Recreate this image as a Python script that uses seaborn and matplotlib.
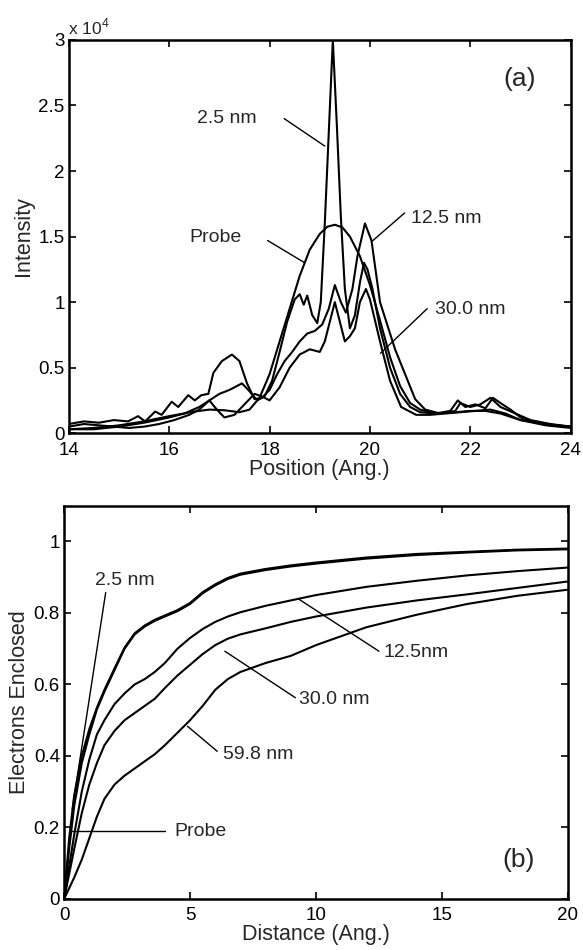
import numpy as np
import matplotlib
matplotlib.use("Agg")
import matplotlib.pyplot as plt
import seaborn as sns

# ===== DATA : panel (a) intensity profiles (units of 1e4) =====
probe_x = [14, 14.5, 15, 15.5, 16, 16.5, 16.8, 17.1, 17.4, 17.6, 17.8, 18.0, 18.2, 18.4, 18.6, 18.8,
           19.0, 19.15, 19.3, 19.45, 19.6, 19.8, 20.0, 20.2, 20.4, 20.6, 20.8, 21.0, 21.3, 21.7,
           22.0, 22.3, 22.6, 23.0, 23.5, 24]
probe_y = [0.03, 0.04, 0.06, 0.09, 0.13, 0.165, 0.18, 0.175, 0.16, 0.18, 0.27, 0.45, 0.7, 0.95, 1.2, 1.40,
           1.52, 1.575, 1.59, 1.57, 1.5, 1.35, 1.13, 0.86, 0.58, 0.36, 0.23, 0.18, 0.15, 0.16,
           0.17, 0.17, 0.15, 0.1, 0.06, 0.04]

nm25_x = [14, 14.3, 14.6, 14.9, 15.2, 15.5, 15.8, 16.1, 16.4, 16.6, 16.8, 17.0, 17.2, 17.45, 17.6, 17.75,
          17.9, 18.05, 18.2, 18.35, 18.5, 18.6, 18.68, 18.75, 18.85, 18.95, 19.02, 19.1, 19.18, 19.26,
          19.34, 19.42, 19.5, 19.6, 19.7, 19.8, 19.88, 19.95, 20.05, 20.2, 20.4, 20.6, 20.8, 21.0,
          21.3, 21.6, 21.75, 21.9, 22.1, 22.3, 22.45, 22.6, 22.8, 23.0, 23.3, 23.6, 24]
nm25_y = [0.05, 0.07, 0.06, 0.05, 0.04, 0.05, 0.07, 0.1, 0.14, 0.18, 0.25, 0.3, 0.33, 0.38, 0.32, 0.25,
          0.28, 0.4, 0.62, 0.85, 1.02, 1.06, 0.98, 1.05, 0.9, 0.84, 1.0, 1.6, 2.3, 3.0,
          2.35, 1.65, 1.1, 0.8, 0.9, 1.15, 1.3, 1.25, 1.1, 0.8, 0.5, 0.3, 0.2, 0.16,
          0.15, 0.17, 0.25, 0.2, 0.22, 0.19, 0.27, 0.23, 0.18, 0.12, 0.08, 0.06, 0.05]

nm125_x = [14, 14.3, 14.6, 14.9, 15.18, 15.38, 15.52, 15.72, 15.85, 16.05, 16.18, 16.38, 16.51, 16.64,
           16.78, 16.88, 17.05, 17.25, 17.4, 17.55, 17.7, 17.85, 18.0, 18.15, 18.3, 18.45, 18.6, 18.75,
           18.9, 19.05, 19.18, 19.3, 19.42, 19.52, 19.65, 19.75, 19.9, 20.03, 20.2, 20.5, 20.9, 21.1,
           21.4, 21.7, 21.8, 22.0, 22.2, 22.4, 22.6, 22.9, 23.2, 23.6, 24]
nm125_y = [0.07, 0.09, 0.08, 0.1, 0.09, 0.13, 0.09, 0.165, 0.14, 0.24, 0.2, 0.29, 0.25, 0.29,
           0.3, 0.46, 0.55, 0.6, 0.55, 0.38, 0.26, 0.27, 0.33, 0.45, 0.55, 0.62, 0.7, 0.76,
           0.78, 0.83, 0.95, 1.13, 1.0, 0.92, 1.1, 1.35, 1.6, 1.47, 1.0, 0.64, 0.26, 0.18,
           0.15, 0.17, 0.23, 0.2, 0.22, 0.27, 0.2, 0.15, 0.1, 0.07, 0.05]

nm30_x = [14, 14.5, 15, 15.5, 16, 16.3, 16.6, 16.8, 16.95, 17.1, 17.3, 17.5, 17.7, 17.85, 18.0, 18.2,
          18.4, 18.6, 18.8, 19.0, 19.1, 19.2, 19.3, 19.4, 19.5, 19.6, 19.7, 19.8, 19.92, 20.0,
          20.2, 20.4, 20.62, 20.92, 21.2, 21.5, 21.8, 22.1, 22.4, 22.7, 23.0, 23.5, 24]
nm30_y = [0.03, 0.03, 0.05, 0.08, 0.12, 0.15, 0.2, 0.25, 0.18, 0.12, 0.14, 0.22, 0.3, 0.28, 0.25, 0.35,
          0.5, 0.6, 0.64, 0.62, 0.7, 0.85, 1.0, 0.85, 0.7, 0.74, 0.8, 1.0, 1.1, 1.02,
          0.7, 0.4, 0.2, 0.14, 0.14, 0.15, 0.16, 0.17, 0.18, 0.15, 0.1, 0.07, 0.05]

# ===== DATA : panel (b) electrons enclosed =====
dist_x = [0, 0.2, 0.4, 0.7, 1.0, 1.3, 1.6, 2.0, 2.4, 2.8, 3.2, 3.6, 4.0, 4.5, 5.0, 5.5, 6.0, 6.5, 7.0,
          8, 9, 10, 12, 14, 16, 18, 20]
enc_25 = [0, 0.14, 0.26, 0.38, 0.46, 0.53, 0.58, 0.64, 0.70, 0.74, 0.762, 0.778, 0.79, 0.805, 0.825,
          0.855, 0.877, 0.895, 0.907, 0.92, 0.93, 0.938, 0.952, 0.962, 0.969, 0.975, 0.978]
enc_probe = [0, 0.17, 0.29, 0.40, 0.475, 0.535, 0.585, 0.645, 0.703, 0.743, 0.765, 0.781, 0.793, 0.808,
             0.828, 0.858, 0.88, 0.898, 0.91, 0.923, 0.933, 0.941, 0.955, 0.965, 0.971, 0.977, 0.98]
enc_125 = [0, 0.09, 0.18, 0.3, 0.39, 0.46, 0.5, 0.545, 0.575, 0.6, 0.615, 0.635, 0.66, 0.7, 0.73,
           0.755, 0.775, 0.79, 0.802, 0.82, 0.835, 0.85, 0.873, 0.89, 0.905, 0.917, 0.927]
enc_30 = [0, 0.07, 0.14, 0.24, 0.32, 0.38, 0.43, 0.47, 0.5, 0.52, 0.54, 0.56, 0.59, 0.625, 0.655,
          0.685, 0.71, 0.728, 0.74, 0.757, 0.775, 0.79, 0.815, 0.835, 0.852, 0.87, 0.888]
enc_598 = [0, 0.03, 0.06, 0.11, 0.17, 0.23, 0.28, 0.32, 0.345, 0.365, 0.385, 0.405, 0.43, 0.465,
           0.5, 0.54, 0.585, 0.615, 0.635, 0.66, 0.68, 0.71, 0.76, 0.795, 0.825, 0.848, 0.865]

# ===== STYLE =====
sns.set_style("ticks")
plt.rcParams['font.family'] = ['Liberation Sans', 'DejaVu Sans']
plt.rcParams['mathtext.fontset'] = 'custom'
plt.rcParams['mathtext.rm'] = 'Liberation Sans'
fs_tick = 13.5
fs_lab = 15.5
fs_ann = 14

fig = plt.figure(figsize=(5.83, 9.5), dpi=100)
ax1 = fig.add_axes([0.118, 0.544, 0.861, 0.414])
ax2 = fig.add_axes([0.110, 0.0537, 0.864, 0.414])

lw = 1.5
for xs, ys in [(probe_x, probe_y), (nm25_x, nm25_y), (nm125_x, nm125_y), (nm30_x, nm30_y)]:
    sns.lineplot(x=xs, y=ys, ax=ax1, color='black', lw=lw, sort=False)

for ys in [enc_probe, enc_25, enc_125, enc_30, enc_598]:
    sns.lineplot(x=dist_x, y=ys, ax=ax2, color='black', lw=lw, sort=False)

# ===== AXES (a) =====
ax1.set_xlim(14, 24)
ax1.set_ylim(0, 3)
ax1.set_xticks([14, 16, 18, 20, 22, 24])
ax1.set_yticks([0, 0.5, 1, 1.5, 2, 2.5, 3])
ax1.set_yticklabels(['0', '0.5', '1', '1.5', '2', '2.5', '3'])
ax1.set_xlabel('Position (Ang.)', fontsize=fs_lab, labelpad=0)
ax1.set_ylabel('Intensity', fontsize=fs_lab, labelpad=3)
ax1.text(13.98, 3.02, r'x 10$^4$', fontsize=12.5, ha='left', va='bottom')

ann = dict(color='black', lw=1.0)
ax1.text(17.14, 2.40, '2.5 nm', fontsize=fs_ann, ha='center', va='center')
ax1.plot([18.29, 19.1], [2.40, 2.19], **ann)
ax1.text(16.92, 1.49, 'Probe', fontsize=fs_ann, ha='center', va='center')
ax1.plot([17.96, 18.7], [1.47, 1.30], **ann)
ax1.text(21.51, 1.64, '12.5 nm', fontsize=fs_ann, ha='center', va='center')
ax1.plot([20.69, 20.03], [1.68, 1.46], **ann)
ax1.text(21.99, 0.94, '30.0 nm', fontsize=fs_ann, ha='center', va='center')
ax1.plot([21.14, 20.21], [0.95, 0.61], **ann)
ax1.text(22.99, 2.70, '(a)', fontsize=19, ha='center', va='center')

# ===== AXES (b) =====
ax2.set_xlim(0, 20)
ax2.set_ylim(0, 1.1)
ax2.set_xticks([0, 5, 10, 15, 20])
ax2.set_yticks([0, 0.2, 0.4, 0.6, 0.8, 1])
ax2.set_yticklabels(['0', '0.2', '0.4', '0.6', '0.8', '1'])
ax2.set_xlabel('Distance (Ang.)', fontsize=fs_lab, labelpad=0)
ax2.set_ylabel('Electrons Enclosed', fontsize=fs_lab, labelpad=3)

ax2.text(2.39, 0.89, '2.5 nm', fontsize=fs_ann, ha='center', va='center')
ax2.plot([1.65, 0.32], [0.857, 0.25], **ann)
ax2.text(5.42, 0.189, 'Probe', fontsize=fs_ann, ha='center', va='center')
ax2.plot([4.01, 0.25], [0.189, 0.189], **ann)
ax2.text(13.98, 0.689, '12.5nm', fontsize=fs_ann, ha='center', va='center')
ax2.plot([12.5, 9.33], [0.693, 0.838], **ann)
ax2.text(10.73, 0.558, '30.0 nm', fontsize=fs_ann, ha='center', va='center')
ax2.plot([9.18, 6.38], [0.563, 0.693], **ann)
ax2.text(7.7, 0.404, '59.8 nm', fontsize=fs_ann, ha='center', va='center')
ax2.plot([6.08, 4.9], [0.413, 0.483], **ann)
ax2.text(18.04, 0.109, '(b)', fontsize=19, ha='center', va='center')

for ax in (ax1, ax2):
    ax.tick_params(direction='in', length=5, width=1.2, top=True, right=True,
                   labelsize=fs_tick, colors='black')
    ax.tick_params(axis='x', pad=6)
    ax.tick_params(axis='y', pad=3)
    for sp in ax.spines.values():
        sp.set_visible(True)
        sp.set_linewidth(1.8)
        sp.set_color('black')

fig.savefig('out.png', dpi=100, facecolor='white')
